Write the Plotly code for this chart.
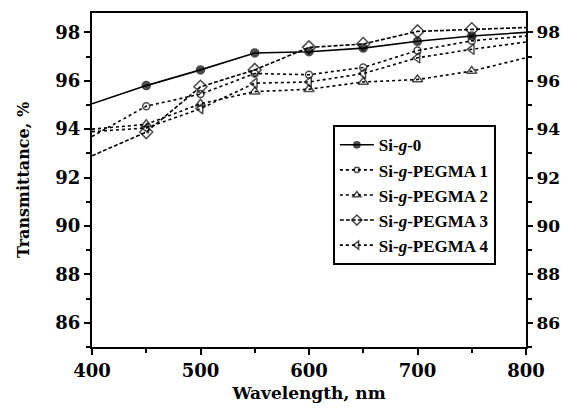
import plotly.graph_objects as go

wavelength = [400, 450, 500, 550, 600, 650, 700, 750, 800]
si_g_0 = [95.05, 95.8, 96.45, 97.15, 97.2, 97.35, 97.63, 97.85, 98.0]
pegma1 = [93.7, 94.95, 95.45, 96.3, 96.25, 96.55, 97.25, 97.65, 97.85]
pegma2 = [94.0, 94.2, 95.05, 95.55, 95.65, 95.95, 96.05, 96.4, 96.95]
pegma3 = [92.9, 93.88, 95.75, 96.45, 97.38, 97.52, 98.04, 98.13, 98.2]
pegma4 = [93.9, 94.05, 94.85, 95.9, 95.95, 96.3, 96.95, 97.3, 97.6]

series = [
    ("Si-<i>g</i>-0", si_g_0, "circle", "solid", 8),
    ("Si-<i>g</i>-PEGMA 1", pegma1, "circle-open", "dot", 7),
    ("Si-<i>g</i>-PEGMA 2", pegma2, "triangle-up-open", "dot", 9),
    ("Si-<i>g</i>-PEGMA 3", pegma3, "diamond-open", "4px,2px", 10),
    ("Si-<i>g</i>-PEGMA 4", pegma4, "triangle-left-open", "3px,3px", 9),
]

fig = go.Figure()
for name, vals, sym, dash, sz in series:
    sizes = [0] + [sz] * (len(wavelength) - 2) + [0]
    fig.add_trace(go.Scatter(
        x=wavelength, y=vals, name=name, mode="lines+markers",
        line=dict(color="black", width=1.6, dash=dash),
        marker=dict(symbol=sym, size=sizes, color="black",
                    line=dict(color="black", width=1.5)),
    ))

# invisible trace to carry the right-hand axis
fig.add_trace(go.Scatter(x=wavelength, y=si_g_0, yaxis="y2", mode="lines",
                         line=dict(color="rgba(0,0,0,0)"), showlegend=False,
                         hoverinfo="skip"))

tickfont = dict(family="DejaVu Serif", size=18, color="black", weight="bold")
yrange = [85, 98.8]

fig.update_layout(
    width=561, height=418,
    margin=dict(l=92, r=35, t=13, b=71),
    paper_bgcolor="white", plot_bgcolor="white",
    showlegend=True,
    legend=dict(
        x=0.555, y=0.664, xanchor="left", yanchor="top",
        bgcolor="white", bordercolor="black", borderwidth=2,
        font=dict(family="Liberation Serif", size=17, color="black", weight="bold"),
        itemwidth=34,
    ),
    xaxis=dict(
        range=[400, 800], dtick=100, tick0=400, automargin=False,
        showline=True, linecolor="black", linewidth=2, mirror=True,
        ticks="outside", ticklen=6, tickwidth=2, tickcolor="black",
        minor=dict(dtick=50, ticks="outside", ticklen=4, tickwidth=1.5, tickcolor="black"),
        showgrid=False, zeroline=False,
        tickfont=tickfont,
        title=dict(text="Wavelength, nm", standoff=8,
                   font=dict(family="DejaVu Serif", size=17, color="black", weight="bold")),
    ),
    yaxis=dict(
        range=yrange, dtick=2, tick0=86, automargin=False,
        showline=True, linecolor="black", linewidth=2,
        ticks="outside", ticklen=6, tickwidth=2, tickcolor="black",
        minor=dict(dtick=1, ticks="outside", ticklen=4, tickwidth=1.5, tickcolor="black"),
        showgrid=False, zeroline=False,
        tickfont=tickfont,
        title=dict(text="Transmittance, %", standoff=22,
                   font=dict(family="DejaVu Serif", size=16, color="black", weight="bold")),
    ),
    yaxis2=dict(
        range=yrange, dtick=2, tick0=86, overlaying="y", side="right", automargin=False,
        showline=True, linecolor="black", linewidth=2,
        ticks="outside", ticklen=5, tickwidth=2, tickcolor="black",
        minor=dict(dtick=1, ticks="outside", ticklen=4, tickwidth=1.5, tickcolor="black"),
        showgrid=False, zeroline=False,
        tickfont=dict(family="DejaVu Serif", size=17, color="black", weight="bold"),
    ),
)

fig.write_html("out.html", config={"displayModeBar": False},
               post_script="document.body.style.margin='0';document.body.style.overflow='hidden';")
